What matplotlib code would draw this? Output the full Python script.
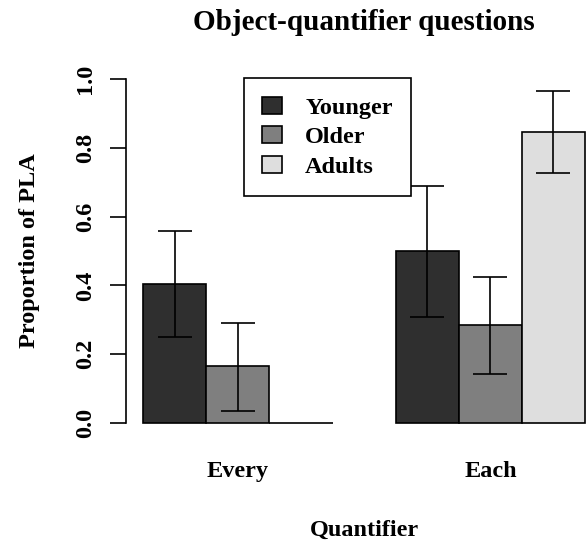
import matplotlib
matplotlib.use("Agg")
import matplotlib.pyplot as plt
import numpy as np

plt.rcParams['font.family'] = ['Liberation Serif', 'DejaVu Serif']
plt.rcParams['font.weight'] = 'bold'

quantifiers = ["Every", "Each"]
groups = ["Younger", "Older", "Adults"]
colors = ["#2f2f2f", "#7f7f7f", "#dedede"]

# proportion of PLA, per group, for Every / Each
younger = [0.404, 0.499]
older = [0.166, 0.285]
adults = [0.0, 0.847]
younger_lo = [0.249, 0.309]
younger_hi = [0.559, 0.689]
older_lo = [0.036, 0.142]
older_hi = [0.292, 0.425]
adults_lo = [np.nan, 0.728]
adults_hi = [np.nan, 0.964]

means = [younger, older, adults]
lows = [younger_lo, older_lo, adults_lo]
highs = [younger_hi, older_hi, adults_hi]

fs = 17.5

fig = plt.figure(figsize=(5.88, 5.46), dpi=100)
ax = fig.add_axes([125.6 / 588, 109.2 / 546, 477.1 / 588, 371.6 / 546])

# R style beside barplot: bars of width 1, one bar space between groups
for g in range(3):
    x = np.array([1.5 + g, 5.5 + g])
    m = np.array(means[g])
    ax.bar(x, m, width=1.0, color=colors[g], edgecolor="black",
           linewidth=1.2, label=groups[g], zorder=2)
    lo = np.array(lows[g])
    hi = np.array(highs[g])
    ok = ~np.isnan(lo)
    ax.errorbar(x[ok], m[ok], yerr=[m[ok] - lo[ok], hi[ok] - m[ok]],
                fmt="none", ecolor="black", elinewidth=1.2, capsize=12,
                capthick=1.2, zorder=3)

ax.set_xlim(0.72, 8.28)
ax.set_ylim(-0.04, 1.04)
for s in ["top", "right", "bottom"]:
    ax.spines[s].set_visible(False)
ax.spines["left"].set_bounds(0, 1)
ax.spines["left"].set_linewidth(1.2)
ax.set_yticks([0.0, 0.2, 0.4, 0.6, 0.8, 1.0])
ax.set_yticklabels(["0.0", "0.2", "0.4", "0.6", "0.8", "1.0"],
                   rotation=90, va="center", fontsize=fs, fontweight="bold")
ax.tick_params(axis="y", length=11.5, width=1.2, pad=10)
ax.set_xticks([2.5, 6.5])
ax.set_xticklabels(quantifiers, fontsize=fs, fontweight="bold")
ax.tick_params(axis="x", length=0, pad=17.5)

ax.set_ylabel("Proportion of PLA", fontsize=fs, fontweight="bold", labelpad=25)
ax.set_xlabel("Quantifier", fontsize=fs, fontweight="bold", labelpad=27.5)
ax.set_title("Object-quantifier questions", fontsize=21, fontweight="bold", pad=25)

leg = ax.legend(loc="upper left", bbox_to_anchor=(244 / 588, 1 - 78.3 / 546),
                bbox_transform=fig.transFigure, borderaxespad=0, fancybox=False,
                edgecolor="black", framealpha=1, prop={"size": fs, "weight": "bold"},
                handlelength=0.82, handleheight=0.7, handletextpad=0.95,
                labelspacing=0.32, borderpad=0.75)
leg.get_frame().set_linewidth(1.2)

fig.savefig("out.png", dpi=100)
